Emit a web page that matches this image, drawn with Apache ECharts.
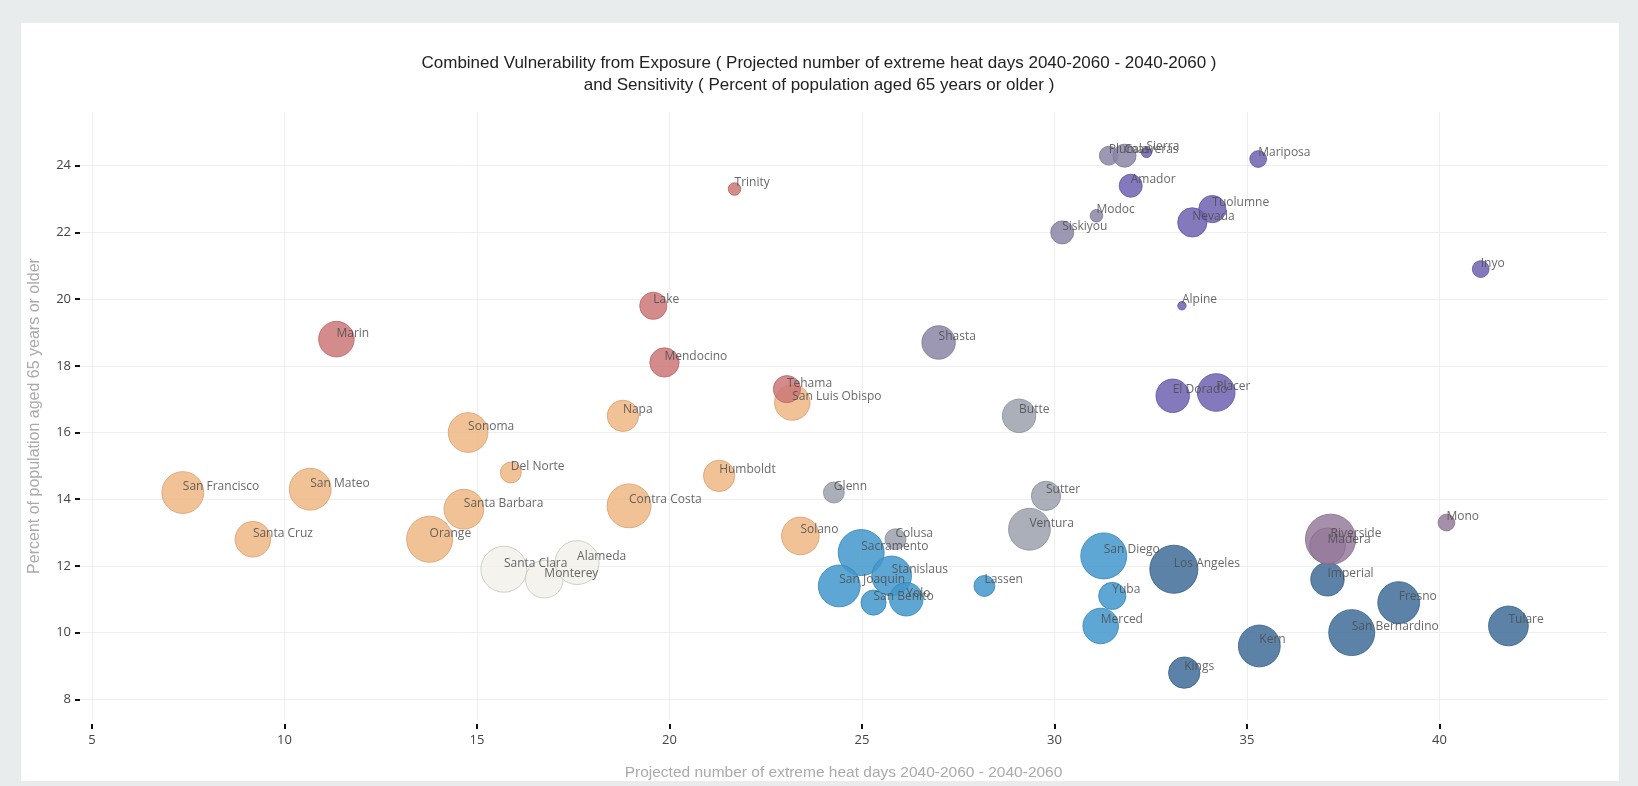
<!DOCTYPE html>
<html>
<head>
<meta charset="utf-8">
<title>Combined Vulnerability</title>
<script src="https://cdn.jsdelivr.net/npm/echarts@6/dist/echarts.min.js"></script>
<style>
  html, body { margin: 0; padding: 0; background: #e9eced; }
  .card { position: absolute; left: 21px; top: 23px; width: 1598px; height: 758px; background: #fff; }
  #chart { position: absolute; left: 0; top: 0; width: 1638px; height: 786px; }
</style>
</head>
<body>
<div class="card"></div>
<div id="chart"></div>
<script>
// county data
const counties = ['San Francisco','San Mateo','Santa Cruz','Orange','Santa Barbara','Sonoma','Del Norte','Napa','Contra Costa','Humboldt','San Luis Obispo','Solano',
  'Marin','Lake','Mendocino','Trinity','Tehama',
  'Santa Clara','Monterey','Alameda',
  'Glenn','Colusa','Sutter','Ventura','Butte',
  'Modoc','Plumas','Calaveras','Shasta','Siskiyou',
  'Sierra','Mariposa','Amador','Tuolumne','Nevada','Inyo','Alpine','El Dorado','Placer',
  'San Diego','Sacramento','Stanislaus','San Joaquin','San Benito','Yolo','Lassen','Yuba','Merced',
  'Los Angeles','Imperial','Fresno','San Bernardino','Tulare','Kern','Kings',
  'Riverside','Madera','Mono'];

// projected number of extreme heat days 2040-2060
const heatDays = [7.36,10.67,9.18,13.77,14.66,14.77,15.88,18.79,18.95,21.29,23.19,23.4,
  11.35,19.58,19.87,21.69,23.05,
  15.7,16.75,17.6,
  24.27,25.87,29.78,29.35,29.08,
  31.09,31.41,31.82,26.99,30.2,
  32.39,35.29,31.98,34.1,33.58,41.07,33.31,33.07,34.2,
  31.28,24.98,25.77,24.41,25.3,26.15,28.18,31.5,31.2,
  33.1,37.09,38.94,37.72,41.79,35.32,33.37,
  37.17,37.09,40.18];

// percent of population aged 65 or older
const pctOver65 = [14.2,14.3,12.8,12.8,13.7,16.0,14.8,16.5,13.8,14.7,16.9,12.9,
  18.8,19.8,18.1,23.3,17.3,
  11.9,11.6,12.1,
  14.2,12.8,14.1,13.1,16.5,
  22.5,24.3,24.3,18.7,22.0,
  24.4,24.2,23.4,22.7,22.3,20.9,19.8,17.1,17.2,
  12.3,12.4,11.7,11.4,10.9,11.0,11.4,11.1,10.2,
  11.9,11.6,10.9,10.0,10.2,9.6,8.8,
  12.8,12.6,13.3];

// relative bubble weight
const weight = [20,20,17,22,19,19,10,15,21,15,17,18,
  17,13,14,6,13,
  22,18,21,
  10,10,14,20,16,
  6,9,11,16,11,
  5,8,11,13,14,8,4,16,18,
  22,22,19,20,12,16,10,13,17,
  23,16,20,22,19,20,15,
  24,17,8];

// vulnerability class of each county
const vulnClass = ['med','med','med','med','med','med','med','med','med','med','med','med',
  'high','high','high','high','high',
  'low','low','low',
  'grey','grey','grey','grey','grey',
  'slate','slate','slate','slate','slate',
  'purple','purple','purple','purple','purple','purple','purple','purple','purple',
  'blue','blue','blue','blue','blue','blue','blue','blue','blue',
  'navy','navy','navy','navy','navy','navy','navy',
  'mauve','mauve','mauve'];

const xTicks = [5, 10, 15, 20, 25, 30, 35, 40];
const yTicks = [8, 10, 12, 14, 16, 18, 20, 22, 24];

const palette = {
  low:    { fill: '#f2f1ea', line: '#c8c8c0' },
  med:    { fill: '#f0b785', line: '#d9a072' },
  high:   { fill: '#cd7777', line: '#b96a6a' },
  grey:   { fill: '#9ca1ae', line: '#8d919d' },
  slate:  { fill: '#8b86a6', line: '#7e7996' },
  purple: { fill: '#6f62b0', line: '#6357a0' },
  blue:   { fill: '#4298cc', line: '#3987b6' },
  navy:   { fill: '#3f6d98', line: '#39628a' },
  mauve:  { fill: '#977b9c', line: '#886f8d' }
};

const order = ['med','high','low','grey','slate','purple','blue','navy','mauve'];

const series = order.map(function (key) {
  const data = [];
  counties.forEach(function (name, i) {
    if (vulnClass[i] === key) data.push([heatDays[i], pctOver65[i], weight[i], name]);
  });
  return {
    type: 'scatter',
    name: key,
    data: data,
    symbolSize: function (v) { return v[2] * 2.09; },
    itemStyle: {
      color: palette[key].fill,
      borderColor: palette[key].line,
      borderWidth: 1,
      opacity: 0.85
    },
    label: {
      show: true,
      position: 'inside',
      align: 'left',
      verticalAlign: 'middle',
      offset: [0, -6],
      formatter: function (p) { return p.data[3]; },
      color: '#4d4d4d',
      fontFamily: 'Open Sans',
      fontSize: 12
    },
    emphasis: { disabled: true }
  };
});

const chart = echarts.init(document.getElementById('chart'));
chart.setOption({
  animation: false,
  title: {
    text: 'Combined Vulnerability from Exposure ( Projected number of extreme heat days 2040-2060 - 2040-2060 )\nand Sensitivity ( Percent of population aged 65 years or older )',
    left: 'center',
    top: 47,
    textStyle: {
      fontFamily: 'Liberation Sans',
      fontSize: 17,
      fontWeight: 'normal',
      color: '#222',
      lineHeight: 22,
      align: 'center'
    }
  },
  grid: { left: 80, right: 31, top: 112, bottom: 66 },
  xAxis: {
    type: 'value',
    min: 4.69,
    max: 44.35,
    offset: 4,
    name: 'Projected number of extreme heat days 2040-2060 - 2040-2060',
    nameLocation: 'middle',
    nameGap: 41,
    nameTextStyle: { color: '#aaa', fontSize: 15.5, fontFamily: 'Liberation Sans' },
    axisLine: { show: false },
    axisTick: { show: true, customValues: xTicks, length: 5, lineStyle: { color: '#111', width: 2 } },
    axisLabel: { customValues: xTicks, margin: 10, color: '#444', fontSize: 13, fontFamily: 'Open Sans' },
    splitLine: { show: true, lineStyle: { color: '#eeeeee', width: 1 } }
  },
  yAxis: {
    type: 'value',
    min: 7.38,
    max: 25.61,
    name: 'Percent of population aged 65 years or older',
    nameLocation: 'middle',
    nameGap: 37,
    nameTextStyle: { color: '#aaa', fontSize: 16, fontFamily: 'Liberation Sans' },
    axisLine: { show: false },
    axisTick: { show: true, customValues: yTicks, length: 5, lineStyle: { color: '#111', width: 2 } },
    axisLabel: { customValues: yTicks, margin: 9, color: '#444', fontSize: 13, fontFamily: 'Open Sans' },
    splitLine: { show: true, lineStyle: { color: '#eeeeee', width: 1 } }
  },
  series: series
});

window.addEventListener('resize', function () {
  chart.resize();
});
</script>
</body>
</html>
